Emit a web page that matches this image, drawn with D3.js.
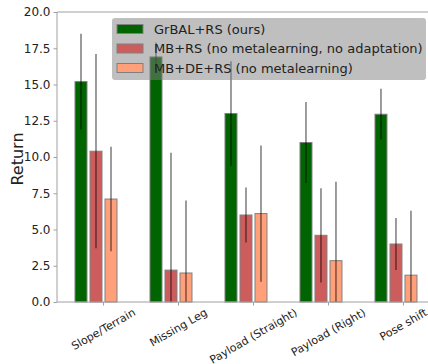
<!DOCTYPE html>
<html>
<head>
<meta charset="utf-8">
<script src="https://cdn.jsdelivr.net/npm/d3@7"></script>
<style>
  html, body { margin: 0; padding: 0; background: #fff; }
  svg { display: block; font-family: "DejaVu Sans", sans-serif; }
</style>
</head>
<body>
<svg id="chart" width="428" height="364"></svg>
<script>
// Return per task for each method (mean and spread)
const categories = ["Slope/Terrain", "Missing Leg", "Payload (Straight)", "Payload (Right)", "Pose shift"];
const grbal    = [15.2, 16.9, 13.0, 11.0, 12.95];
const grbalErr = [3.3, 1.0, 3.6, 2.8, 1.75];
const mbrs     = [10.4, 2.2, 6.0, 4.6, 4.0];
const mbrsErr  = [6.7, 8.1, 1.9, 3.25, 1.8];
const mbde     = [7.1, 2.0, 6.1, 2.85, 1.85];
const mbdeErr  = [3.6, 5.0, 4.7, 5.45, 4.45];
const yTicks   = [0, 2.5, 5, 7.5, 10, 12.5, 15, 17.5, 20];

const series = [
  { name: "GrBAL+RS (ours)", values: grbal, err: grbalErr, color: "#006400" },
  { name: "MB+RS (no metalearning, no adaptation)", values: mbrs, err: mbrsErr, color: "#cd5c5c" },
  { name: "MB+DE+RS (no metalearning)", values: mbde, err: mbdeErr, color: "#ffa07a" }
];

const svg = d3.select("#chart");
const plotL = 57, plotR = 428, plotT = 12, plotB = 302;
const barStep = 0.2, barWidth = 0.16;

const x = d3.scaleLinear().domain([-0.32, 4.627]).range([plotL, plotR]);
const y = d3.scaleLinear().domain([0, 20]).range([plotB, plotT]);

svg.append("defs").append("clipPath").attr("id", "plot")
  .append("rect").attr("x", plotL).attr("y", plotT)
  .attr("width", plotR - plotL).attr("height", plotB - plotT);

// bars
const bw = x(barWidth) - x(0);
series.forEach((s, j) => {
  svg.append("g").selectAll("rect").data(s.values).join("rect")
    .attr("x", (d, i) => x(i + j * barStep) - bw / 2)
    .attr("y", d => y(d))
    .attr("width", bw)
    .attr("height", d => y(0) - y(d))
    .attr("fill", s.color)
    .attr("stroke", "#808080")
    .attr("stroke-width", 1);
});

// error bars
const eg = svg.append("g").attr("clip-path", "url(#plot)");
series.forEach((s, j) => {
  eg.append("g").selectAll("line").data(s.values).join("line")
    .attr("x1", (d, i) => x(i + j * barStep))
    .attr("x2", (d, i) => x(i + j * barStep))
    .attr("y1", (d, i) => y(d + s.err[i]))
    .attr("y2", (d, i) => y(d - s.err[i]))
    .attr("stroke", "#000")
    .attr("stroke-opacity", 0.65)
    .attr("stroke-width", 1.2);
});

// spines
const spine = "#a0a0a0";
svg.append("line").attr("x1", plotL).attr("x2", plotL).attr("y1", plotT).attr("y2", plotB)
  .attr("stroke", spine).attr("stroke-width", 1);
svg.append("line").attr("x1", plotL).attr("x2", plotR).attr("y1", plotT).attr("y2", plotT)
  .attr("stroke", spine).attr("stroke-width", 1);
svg.append("line").attr("x1", plotL).attr("x2", plotR).attr("y1", plotB).attr("y2", plotB)
  .attr("stroke", spine).attr("stroke-width", 1);

// y axis
const yAxis = svg.append("g").attr("transform", `translate(${plotL},0)`)
  .call(d3.axisLeft(y).tickValues(yTicks).tickFormat(d3.format(".1f")).tickSize(3.5).tickPadding(3));
yAxis.select(".domain").remove();
yAxis.selectAll(".tick line").attr("stroke", spine);
yAxis.selectAll(".tick text").attr("fill", "#222").style("font-size", "12px")
  .style("font-family", "DejaVu Sans, sans-serif");

// x axis ticks
const xt = categories.map((c, i) => i + 1.5 * barStep);
svg.append("g").selectAll("line").data(xt).join("line")
  .attr("x1", d => x(d)).attr("x2", d => x(d))
  .attr("y1", plotB).attr("y2", plotB + 3.5)
  .attr("stroke", spine);

const xl = svg.append("g").selectAll("text").data(categories).join("text")
  .text(d => d)
  .attr("font-size", 11)
  .attr("fill", "#222")
  .attr("text-anchor", "middle")
  .attr("dominant-baseline", "central");
xl.each(function(d, i) {
  const w = this.getComputedTextLength();
  const h = 11 * 1.17;
  const cy = plotB + 4 + (w * 0.5 + h * 0.866) / 2;
  d3.select(this).attr("transform", `translate(${x(xt[i])},${cy}) rotate(-30)`);
});

// y label
svg.append("text")
  .attr("transform", `translate(22.5,159) rotate(-90)`)
  .attr("text-anchor", "middle")
  .attr("font-size", 16)
  .attr("fill", "#222")
  .text("Return");

// legend
const lg = svg.append("g");
lg.append("rect").attr("x", 112).attr("y", 18).attr("width", 314).attr("height", 62)
  .attr("rx", 3).attr("fill", "#808080").attr("fill-opacity", 0.5);
series.forEach((s, j) => {
  const cy = 29 + j * 19.5;
  lg.append("rect").attr("x", 117).attr("y", cy - 4.5).attr("width", 26).attr("height", 9)
    .attr("fill", s.color).attr("stroke", "#808080").attr("stroke-width", 1);
  lg.append("text").attr("x", 154).attr("y", cy + 4.8)
    .attr("font-size", 13).attr("fill", "#222").text(s.name);
});
</script>
</body>
</html>
